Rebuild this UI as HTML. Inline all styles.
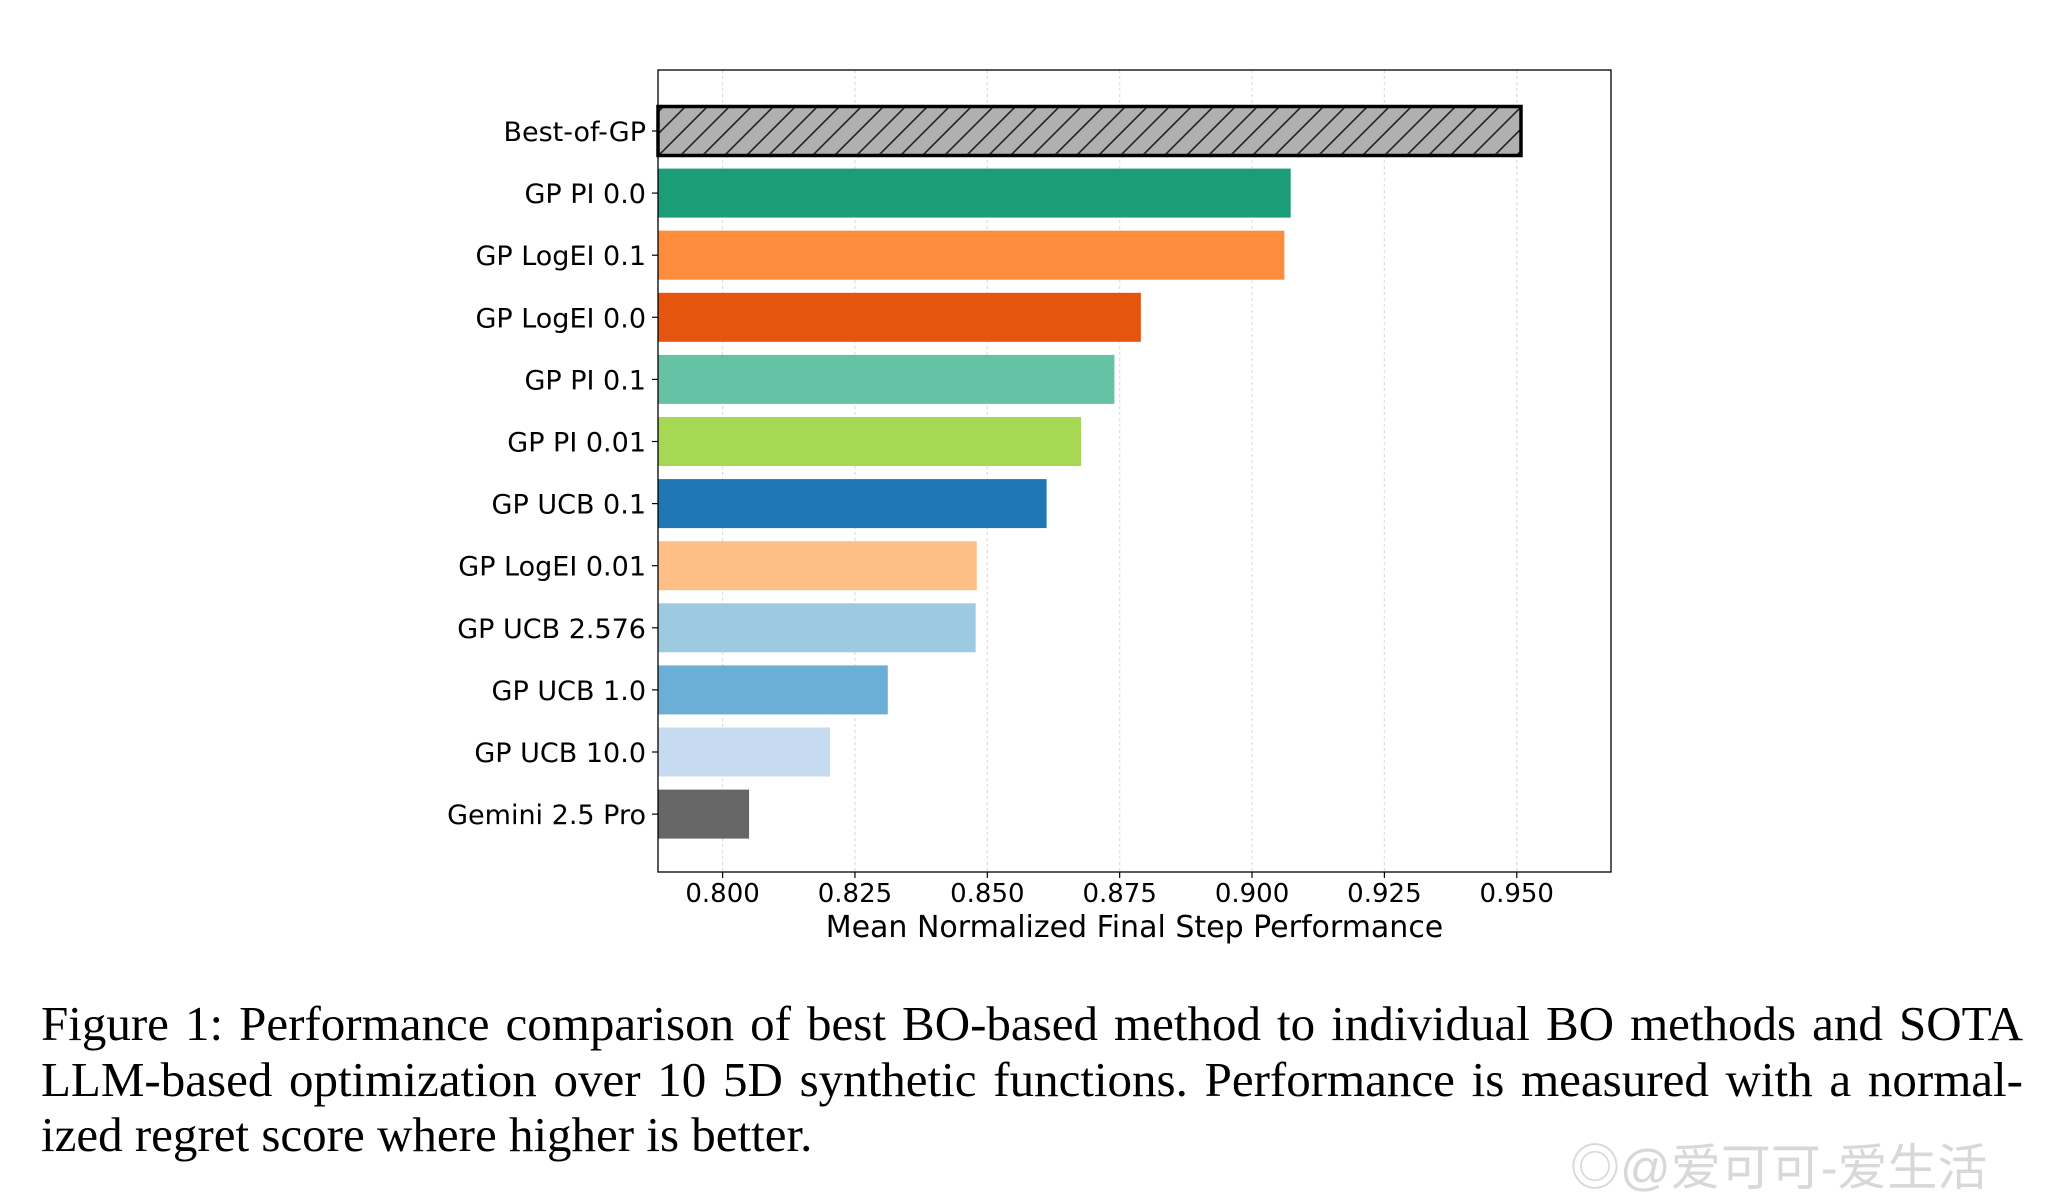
<!DOCTYPE html>
<html><head><meta charset="utf-8"><style>
html,body{margin:0;padding:0;background:#fff;width:2064px;height:1198px;overflow:hidden;}
svg{position:absolute;left:0;top:0;}
.cap{position:absolute;left:41px;width:1982px;font-family:"Liberation Serif",serif;font-size:49px;line-height:55.5px;color:#000;}
.cap div{text-align:justify;text-align-last:justify;white-space:nowrap;}
.cap div.last{text-align-last:left;}
.wm{position:absolute;left:1570px;top:1128px;font-family:"Liberation Sans","Noto Sans CJK SC",sans-serif;font-size:50px;color:#d8d8d8;}
</style></head><body>
<svg id="chart" width="2064" height="1198">
<defs><pattern id="hatch" patternUnits="userSpaceOnUse" width="22" height="22">
<rect width="22" height="22" fill="#b0b0b0"/><path d="M-2,24 L24,-2 M-13,13 L13,-13 M9,35 L35,9" stroke="#222" stroke-width="1.6"/></pattern></defs>
</svg>
<div class="cap" style="top:996px">
<div>Figure 1: Performance comparison of best BO-based method to individual BO methods and SOTA</div>
<div>LLM-based optimization over 10 5D synthetic functions. Performance is measured with a normal-</div>
<div class="last">ized regret score where higher is better.</div>
</div>
<div class="wm">◎@爱可可-爱生活</div>
<script>
const categories=["Best-of-GP","GP PI 0.0","GP LogEI 0.1","GP LogEI 0.0","GP PI 0.1","GP PI 0.01","GP UCB 0.1","GP LogEI 0.01","GP UCB 2.576","GP UCB 1.0","GP UCB 10.0","Gemini 2.5 Pro"];
const values=[0.9508,0.9073,0.9061,0.879,0.874,0.8677,0.8612,0.848,0.8478,0.8312,0.8203,0.805];
const colors=["url(#hatch)","#1b9e77","#fd8d3c","#e6550d","#66c2a5","#a6d854","#1f78b4","#fdbf85","#9ecae1","#6baed6","#c6dbef","#666666"];
const tickValues=[0.800,0.825,0.850,0.875,0.900,0.925,0.950];
const tickLabels=["0.800","0.825","0.850","0.875","0.900","0.925","0.950"];
const L=658,R=1611,T=70,B=872,xmin=0.7878,xmax=0.9678;
const x=v=>L+(v-xmin)/(xmax-xmin)*(R-L);
const y=i=>131+i*62.1;
const svg=document.getElementById('chart');const NS="http://www.w3.org/2000/svg";
function mk(t,a){const e=document.createElementNS(NS,t);for(const k in a)e.setAttribute(k,a[k]);svg.appendChild(e);return e;}
tickValues.forEach((v,i)=>{
 const g=mk('line',{x1:x(v),x2:x(v),y1:T,y2:B,stroke:'#ddd','stroke-width':1.2,'stroke-dasharray':'3,3'});
 
 
 const tk=mk('line',{x1:x(v),x2:x(v),y1:B,y2:B+6,stroke:'#000','stroke-width':1.2});
 
 
 const t=mk('text',{x:x(v),y:B+30,'text-anchor':'middle','font-family':'DejaVu Sans, sans-serif','font-size':26,fill:'#000'});
 t.textContent=tickLabels[i];
 
 
});
categories.forEach((c,i)=>{
 const best=i===0;
 const b=mk('rect',{x:L,y:y(i)-24.5,width:x(values[i])-L,height:49,fill:colors[i],stroke:best?'#000':'none','stroke-width':best?3.5:0});
 
 
 const tk=mk('line',{x1:L-6,x2:L,y1:y(i),y2:y(i),stroke:'#000','stroke-width':1.2});
 
 
 const t=mk('text',{x:L-12,y:y(i)+10,'text-anchor':'end','font-family':'DejaVu Sans, sans-serif','font-size':27,fill:'#000'});
 t.textContent=c;
 
 
});
const fr=mk('rect',{x:L,y:T,width:R-L,height:B-T,fill:'none',stroke:'#000','stroke-width':1.3});


const xl=mk('text',{x:(L+R)/2,y:937,'text-anchor':'middle','font-family':'DejaVu Sans, sans-serif','font-size':30,fill:'#000'});
xl.textContent="Mean Normalized Final Step Performance";


</script>
</body></html>
